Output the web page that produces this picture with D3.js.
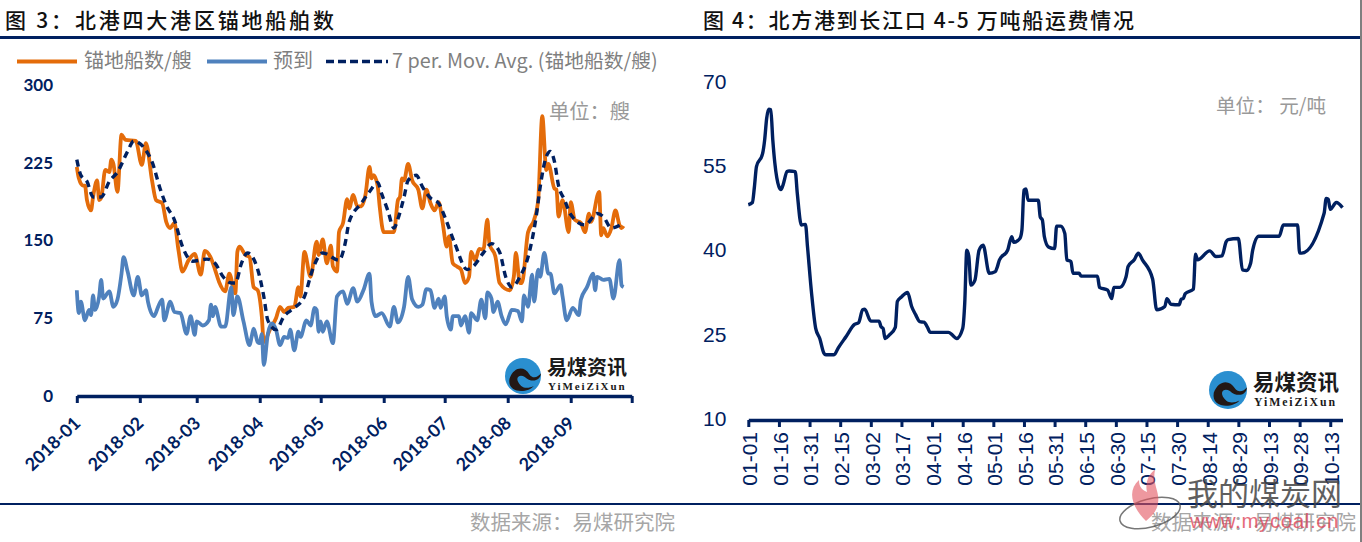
<!DOCTYPE html>
<html lang="zh-CN">
<head>
<meta charset="UTF-8">
<title>北港锚地船舶数与运费</title>
<script src="https://d3js.org/d3.v7.min.js"></script>
<style>
    html, body { margin: 0; padding: 0; background: #fff; overflow: hidden; }
    text { font-family: "Noto Sans CJK SC", sans-serif; }
</style>
</head>
<body>
<svg id="chart" width="1362" height="542"></svg>
<script>
// Figure 3: days since 2018-01-01
const anchorDays = [0,1,3,4,5,7,8,10,11,12,14,16,17,18,20,22,24,29,32,34,37,39,42,44,46,48,50,52,55,58,61,63,66,68,70,73,75,78,79,80,83,85,87,89,91,92,95,98,100,102,104,107,109,110,112,115,118,119,121,123,125,126,128,129,131,133,134,136,138,140,142,144,145,146,148,149,151,156,158,159,160,161,163,165,168,170,172,174,176,178,180,182,183,185,187,189,191,193,194,196,198,200,202,203,206,208,213,215,216,218,219,222,225,227,229,231,232,235,236,237,239,242,243,245,248,250,252,253,257,258,259,261,263,265,267,268,269];
const anchorVals = [221,210,203,203,189,179,192,208,189,191,218,216,228,224,197,252,247,246,223,244,208,189,186,168,162,167,141,120,131,137,117,140,133,122,110,101,118,99,139,144,136,134,105,102,77,52,64,75,86,81,85,86,105,96,139,115,149,136,151,128,145,125,120,158,167,190,181,194,183,183,194,221,210,213,203,183,158,158,189,192,210,208,224,208,199,181,199,186,179,187,167,144,154,128,125,122,109,115,139,131,142,141,170,147,134,109,102,115,138,109,109,158,170,189,270,218,224,200,199,173,189,158,187,170,167,158,176,168,197,155,162,154,162,179,165,162,164];

const arrivalDays = [0,1,2,4,6,7,8,9,11,12,13,16,18,20,22,23,25,28,30,32,34,35,38,40,42,43,46,48,51,54,56,58,59,62,65,66,67,68,71,73,76,77,79,82,85,86,87,89,90,91,92,94,96,98,100,102,104,105,107,109,110,113,115,117,118,119,120,121,123,126,128,131,133,136,138,141,144,145,147,150,154,156,158,161,163,165,168,170,172,174,176,178,179,181,182,184,185,188,189,191,193,194,197,199,201,202,204,205,207,209,211,214,217,219,220,222,224,225,227,228,230,232,233,235,238,239,241,244,247,248,251,254,255,256,259,262,264,267,268,269];
const arrivalVals = [102,80,91,73,83,78,97,83,96,112,94,101,86,93,118,134,120,97,115,97,102,91,77,86,93,73,91,81,80,60,77,59,72,68,73,88,77,86,67,67,105,78,96,72,49,57,65,52,51,60,30,60,70,64,49,57,56,64,44,62,57,73,68,85,83,62,72,62,72,51,96,101,89,104,91,102,118,91,77,80,67,86,71,86,115,93,86,88,103,102,85,94,85,96,77,64,77,77,68,77,61,80,73,93,75,100,94,81,91,77,69,83,82,72,97,86,117,91,122,115,138,118,118,99,107,96,73,85,78,93,105,118,102,115,112,113,94,131,107,105];

const maDays = [0,2,5,8,12,16,20,25,28,34,37,41,44,48,52,57,64,68,72,76,78,81,84,89,92,94,98,102,107,112,116,121,129,132,134,140,144,148,150,153,156,158,161,163,167,170,174,178,181,186,192,195,200,204,208,211,214,218,222,226,228,231,233,235,237,240,243,250,256,259,263,269];
const maVals = [228,213,207,192,192,207,216,236,246,237,226,200,184,170,144,130,132,128,115,109,109,128,138,122,96,73,64,77,85,96,122,138,131,147,168,186,197,206,195,179,162,171,192,208,213,202,191,186,173,147,122,125,138,147,139,115,105,115,134,173,202,231,236,226,203,189,175,165,176,173,162,167];

const monthTicks = [0,31,59,90,120,151,181,212,243,273];
const monthLabels = ["2018-01","2018-02","2018-03","2018-04","2018-05","2018-06","2018-07","2018-08","2018-09",""];
const anchorYTicks = [0,75,150,225,300];

// Figure 4: days since 01-01
const freightDays = [0,2,3,4,7,8,9,10,11,12,13,15,16,17,19,20,23,24,26,28,29,31,33,35,37,38,42,44,48,52,54,56,57,60,64,65,66,67,69,72,73,75,78,80,82,84,86,88,89,98,100,102,105,106,107,108,109,111,113,115,118,121,122,123,127,129,130,133,134,135,136,137,138,142,143,144,145,147,150,151,153,155,156,158,159,162,163,171,172,176,178,179,182,185,186,189,191,193,198,200,204,205,207,211,212,213,214,218,219,220,226,229,232,234,235,240,242,244,246,247,250,260,262,269,270,271,282,283,284,285,288,291];
const freightVals = [48.3,48.7,51.5,55.1,57.4,59.8,63.7,65.3,65.2,59.8,55.7,51.5,51,51.8,54.2,54.3,54.2,50.3,44.7,44.8,40.8,32.5,26.3,24.5,21.9,21.6,21.6,22.8,24.9,27,27.3,29.6,29.7,27.6,27.6,26.6,26.3,24.5,25.1,26.5,31.1,31.9,32.7,30.2,28.7,27.5,27.4,26.3,25.6,25.6,25.1,24.5,26.3,30.8,40.2,39.1,34,34.9,40.2,41.1,36.1,36.4,37.3,38.5,40.2,42.6,41.6,42.3,43.8,50.9,51.1,49.1,49.1,49.1,46.1,45.6,42.6,40.8,40.5,44.5,44.5,43.2,38.5,38.2,36.1,36.1,35.6,35.6,33.6,33.1,31.6,33.6,33.6,35.5,37.3,38.5,39.7,38.5,35.1,29.6,30.2,31.6,30.6,30.5,31.5,31.6,32.5,33.3,39.5,38.5,40.1,39.1,39.2,41.7,42.1,42.3,36.7,36.6,37.9,40.2,42.7,42.7,44.7,44.7,39.7,39.7,46.8,49.4,49.3,47.5,48.7,47.8];

const freightTicks = [0,15,30,45,60,75,90,105,120,135,150,165,180,195,210,225,240,255,270,285];
const freightLabels = ["01-01","01-16","01-31","02-15","03-02","03-17","04-01","04-16","05-01","05-16","05-31","06-15","06-30","07-15","07-30","08-14","08-29","09-13","09-28","10-13"];
const freightYTicks = [10,25,40,55,70];

const NAVY = "#002060", ORANGE = "#E46C0A", BLUE = "#4F81BD";

const svg = d3.select("#chart");

function addText(x, y, str, size, fill, extra) {
    const t = svg.append("text").attr("x", x).attr("y", y + 2)
        .attr("font-size", size).attr("fill", fill)
        .attr("dominant-baseline", "middle").text(str);
    if (extra) Object.keys(extra).forEach(k => t.attr(k, extra[k]));
    return t;
}

// frame lines
svg.append("rect").attr("x", 0).attr("y", 36).attr("width", 1362).attr("height", 3).attr("fill", NAVY);
svg.append("rect").attr("x", 0).attr("y", 503).attr("width", 1362).attr("height", 2).attr("fill", NAVY);
svg.append("rect").attr("x", 1360).attr("y", 0).attr("width", 2).attr("height", 542).attr("fill", "#7f7f7f");

// titles
addText(5, 20, "图 3：北港四大港区锚地船舶数", 21, "#111", {"letter-spacing": 2.8, "font-weight": 500});
addText(703, 20, "图 4：北方港到长江口 4-5 万吨船运费情况", 21, "#111", {"letter-spacing": 1.7, "font-weight": 500});

// Figure 3
const xL = d3.scaleLinear().domain([0, 273]).range([76.8, 631.7]);
const yL = d3.scaleLinear().domain([0, 300]).range([396, 85]);

const lineOf = (x, y) => d3.line().x(d => x(d[0])).y(d => y(d[1])).curve(d3.curveMonotoneX);
const zipped = (a, b) => a.map((d, i) => [d, b[i]]);

function drawSeries(days, vals, color, width, dash) {
    svg.append("path").datum(zipped(days, vals))
        .attr("fill", "none").attr("stroke", color).attr("stroke-width", width)
        .attr("stroke-linejoin", "round")
        .attr("stroke-dasharray", dash || null)
        .attr("d", lineOf(xL, yL));
}
drawSeries(anchorDays, anchorVals, ORANGE, 3.8);
drawSeries(arrivalDays, arrivalVals, BLUE, 3.8);
drawSeries(maDays, maVals, NAVY, 3.4, "7 5");

const axisL = svg.append("g").attr("transform", "translate(0,396)")
    .call(d3.axisBottom(xL).tickValues(monthTicks).tickFormat((d, i) => monthLabels[i]).tickSize(7).tickSizeOuter(0));
axisL.select(".domain").attr("stroke", NAVY).attr("stroke-width", 3.5);
axisL.selectAll(".tick line").attr("stroke", NAVY).attr("stroke-width", 3);
axisL.selectAll(".tick text")
    .attr("x", 0).attr("y", 0).attr("dy", "0.35em")
    .attr("text-anchor", "end")
    .attr("transform", "translate(0,24) rotate(-44)")
    .attr("fill", NAVY).attr("font-size", 17.8).attr("font-weight", 700)
    .style("font-family", "Lato, sans-serif");

anchorYTicks.forEach(v => {
    addText(53, yL(v) - 0.5, v, 17, NAVY, {"text-anchor": "end", "font-weight": 700}).style("font-family", "Lato, sans-serif");
});

// legend
svg.append("line").attr("x1", 17).attr("x2", 77).attr("y1", 61.5).attr("y2", 61.5).attr("stroke", ORANGE).attr("stroke-width", 4);
addText(84, 61, "锚地船数/艘", 20, "#7f7f7f");
svg.append("line").attr("x1", 207).attr("x2", 267).attr("y1", 61.5).attr("y2", 61.5).attr("stroke", BLUE).attr("stroke-width", 4);
addText(273, 61, "预到", 20, "#7f7f7f");
svg.append("line").attr("x1", 326).attr("x2", 388).attr("y1", 61.5).attr("y2", 61.5).attr("stroke", NAVY).attr("stroke-width", 3.5).attr("stroke-dasharray", "8 4");
addText(392, 61, "7 per. Mov. Avg. (锚地船数/艘)", 19.8, "#7f7f7f");
addText(549, 111, "单位：艘", 20.3, "#999");

// Figure 4
const xR = d3.scaleLinear().domain([0, 291]).range([748.3, 1342.5]);
const yR = d3.scaleLinear().domain([10, 70]).range([420, 82.8]);

svg.append("path").datum(zipped(freightDays, freightVals))
    .attr("fill", "none").attr("stroke", NAVY).attr("stroke-width", 3.4)
    .attr("stroke-linejoin", "round")
    .attr("d", lineOf(xR, yR));

const axisR = svg.append("g").attr("transform", "translate(0,420)")
    .call(d3.axisBottom(xR).tickValues(freightTicks).tickFormat((d, i) => freightLabels[i]).tickSize(7).tickSizeOuter(0));
axisR.select(".domain").attr("stroke", NAVY).attr("stroke-width", 3.5);
axisR.selectAll(".tick line").attr("stroke", NAVY).attr("stroke-width", 3);
axisR.selectAll(".tick text")
    .attr("x", 0).attr("y", 0).attr("dy", "0.35em")
    .attr("text-anchor", "end")
    .attr("transform", "translate(1,12) rotate(-90)")
    .attr("fill", NAVY).attr("font-size", 21)
    .style("font-family", "'Liberation Sans', sans-serif");

freightYTicks.forEach(v => {
    addText(703, yR(v) - 1.5, v, 21, NAVY).style("font-family", "'Liberation Sans', sans-serif");
});
addText(1216, 106, "单位： 元/吨", 19.6, "#999");

// brand logos
function logo(cx, cy, r, tx, ty, sy, tw) {
    const g = svg.append("g");
    g.append("circle").attr("cx", cx).attr("cy", cy).attr("r", r).attr("fill", "#2a8fd0");
    g.append("path").attr("fill", "#231815")
        .attr("d", `M${cx - r * 0.75},${cy + r * 0.15} C${cx - r * 0.5},${cy - r * 0.55} ${cx + r * 0.1},${cy - r * 0.55} ${cx + r * 0.35},${cy - r * 0.1}
            C${cx + r * 0.55},${cy + r * 0.2} ${cx + r * 0.85},${cy + r * 0.05} ${cx + r},${cy - r * 0.15}
            C${cx + r * 0.95},${cy + r * 0.35} ${cx + r * 0.4},${cy + r * 0.35} ${cx + r * 0.1},${cy + r * 0.05}
            C${cx - r * 0.2},${cy - r * 0.15} ${cx - r * 0.55},${cy + r * 0.1} ${cx - r * 0.1},${cy + r * 0.55}
            C${cx + r * 0.1},${cy + r * 0.72} ${cx + r * 0.4},${cy + r * 0.65} ${cx + r * 0.6},${cy + r * 0.55}
            C${cx + r * 0.3},${cy + r * 0.95} ${cx - r * 0.9},${cy + r} ${cx - r * 0.75},${cy + r * 0.15} Z`);
    addText(tx, ty - 2, "易煤资讯", tw, "#1a1a1a", {"font-weight": 700});
    addText(tx + 1, sy - 2, "YiMeiZiXun", tw * 0.55, "#1a1a1a", {"font-weight": 700, "letter-spacing": 1.9})
        .style("font-family", "'Liberation Serif', serif");
}
logo(523, 376, 18, 547, 370, 387, 20);
logo(1228, 390, 19, 1253, 384, 403, 21.5);

// footer
addText(470, 522, "数据来源：易煤研究院", 20.5, "#a6a6a6");
addText(1151, 522, "数据来源：易煤研究院", 20.5, "#a6a6a6");

// site watermark
const mark = svg.append("g");
mark.append("ellipse").attr("cx", 1150).attr("cy", 513).attr("rx", 31).attr("ry", 14)
    .attr("transform", "rotate(-15 1150 513)")
    .attr("fill", "none").attr("stroke", "#555").attr("stroke-width", 1.5).attr("opacity", 0.8);
mark.append("path").attr("fill", "#e2545f").attr("opacity", 0.6)
    .attr("d", "M1146,521 C1130,505 1128,490 1139,480 C1139,488 1143,490 1147,492 C1145,484 1148,474 1155,470 C1152,484 1160,492 1158,503 C1157,511 1152,516 1146,521 Z");
addText(1187, 495, "我的煤炭网", 31, "#444", {"opacity": 0.85});
addText(1190, 521, "www.mycoal.cn", 20.5, "#e0475a", {"opacity": 0.8, "letter-spacing": 0.6})
    .style("font-family", "'Liberation Sans', sans-serif");
</script>
</body>
</html>
